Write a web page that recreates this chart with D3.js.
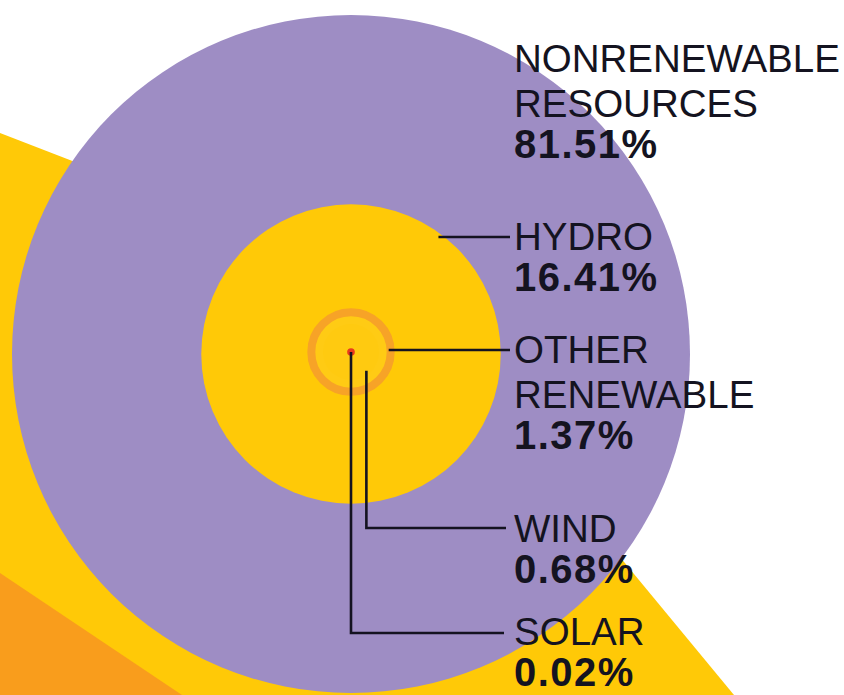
<!DOCTYPE html>
<html><head><meta charset="utf-8">
<script src="https://cdn.jsdelivr.net/npm/d3@7"></script>
<style>html,body{margin:0;padding:0;background:#fff;overflow:hidden}</style>
</head><body>
<svg id="chart" width="844" height="695"></svg>
<script>
// ---- data ----
const categories = ["NONRENEWABLE RESOURCES", "HYDRO", "OTHER RENEWABLE", "WIND", "SOLAR"];
const labelLines = [["NONRENEWABLE", "RESOURCES"], ["HYDRO"], ["OTHER", "RENEWABLE"], ["WIND"], ["SOLAR"]];
const shares = [81.51, 16.41, 1.37, 0.68, 0.02];
const shareLabels = ["81.51%", "16.41%", "1.37%", "0.68%", "0.02%"];

// ---- layout ----
const W = 844, H = 695;
const cx = 351, cy = 354;
const svg = d3.select("#chart");
const total = d3.sum(shares);
const renewable = d3.sum(shares.slice(1));
const r = d3.scaleSqrt().domain([0, total]).range([0, 339]);

// background decorative bands
svg.append("path").attr("d", "M0,133 L396,286 L734,695 L0,695 Z").attr("fill", "#FFC907");
svg.append("path").attr("d", "M0,573 L182,695 L0,695 Z").attr("fill", "#F99D1C");

// nonrenewable (total) circle
svg.append("circle").attr("cx", cx).attr("cy", cy).attr("r", r(total)).attr("fill", "#9E8DC4");
// hydro = all renewables
svg.append("circle").attr("cx", cx).attr("cy", cy).attr("r", r(renewable) + 4).attr("fill", "#FFC907");
// other renewable ring
const rOther = r(shares[2]);
svg.append("circle").attr("cx", cx).attr("cy", cy - 2).attr("r", rOther)
  .attr("fill", "#FFCB14").attr("stroke", "#F7A327").attr("stroke-width", 8);
// wind
const rWind = r(shares[3]);
svg.append("circle").attr("cx", cx).attr("cy", cy - 2).attr("r", rWind).attr("fill", "#FFCA10");
// solar
const rSolar = r(shares[4]);
svg.append("circle").attr("cx", cx).attr("cy", cy - 2).attr("r", rSolar * 0.8).attr("fill", "#E83A1E");

// ---- labels ----
const labelX = 514;
const firstBaselines = [72, 250, 363, 542, 645];
const lineGap = 45;
const ink = "#141320";

labelLines.forEach((lines, i) => {
  const g = svg.append("g");
  lines.forEach((t, j) => {
    g.append("text").attr("x", labelX).attr("y", firstBaselines[i] + j * lineGap)
      .attr("font-family", "'Liberation Sans', Arial, sans-serif").attr("font-size", 38.5)
      .attr("fill", ink).text(t);
  });
  g.append("text").attr("x", labelX).attr("y", firstBaselines[i] + lines.length * lineGap - 4)
    .attr("font-family", "'Liberation Sans', Arial, sans-serif").attr("font-size", 40)
    .attr("font-weight", "bold").attr("letter-spacing", 1.5)
    .attr("fill", ink).text(shareLabels[i]);
});

// ---- leader lines ----
const lineEnd = labelX - 4;
const leaders = [];
// hydro
{
  const y = firstBaselines[1] - 13;
  const rr = r(renewable) + 4;
  const x0 = cx + Math.sqrt(rr * rr - (cy - y) * (cy - y)) - 6;
  leaders.push([[x0, y], [lineEnd, y]]);
}
// other renewable
{
  const y = firstBaselines[2] - 13;
  leaders.push([[cx + rOther - 2, y], [lineEnd, y]]);
}
// wind
{
  const y = firstBaselines[3] - 14;
  const x = cx + rWind * 0.55;
  leaders.push([[x, cy + rWind * 0.6], [x, y], [lineEnd - 4, y]]);
}
// solar
{
  const y = firstBaselines[4] - 12;
  leaders.push([[cx, cy - 2], [cx, y], [lineEnd - 6, y]]);
}
const line = d3.line();
leaders.forEach(p => {
  svg.append("path").attr("d", line(p)).attr("fill", "none")
    .attr("stroke", "#141320").attr("stroke-width", 2.6);
});
</script>
</body></html>
